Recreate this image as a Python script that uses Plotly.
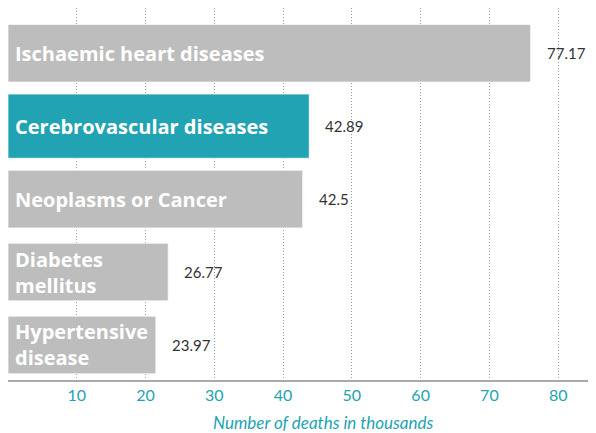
import plotly.graph_objects as go

categories = ["Ischaemic heart diseases", "Cerebrovascular diseases", "Neoplasms or Cancer",
              "Diabetes mellitus", "Hypertensive disease"]
display_names = ["Ischaemic heart diseases", "Cerebrovascular diseases", "Neoplasms or Cancer",
                 "Diabetes<br>mellitus", "Hypertensive<br>disease"]
bar_lengths = [76.0, 43.8, 42.85, 23.3, 21.5]
value_labels = ["77.17", "42.89", "42.5", "26.77", "23.97"]
x_ticks = [10, 20, 30, 40, 50, 60, 70, 80]

TEAL = "#22a3b3"
GRAY = "#bdbdbd"
colors = [TEAL if c == "Cerebrovascular diseases" else GRAY for c in categories]
widths = [0.88 if c == "Cerebrovascular diseases" else 0.79 for c in categories]

fig = go.Figure()
fig.add_trace(go.Bar(
    x=bar_lengths, y=list(range(len(categories))), orientation="h",
    marker=dict(color=colors, line=dict(color="rgba(255,255,255,0.7)", width=1)),
    width=widths, hoverinfo="skip", showlegend=False,
))

annotations = []
for i, (name, v, lab) in enumerate(zip(display_names, bar_lengths, value_labels)):
    annotations.append(dict(
        x=0, y=i, xref="x", yref="y", text=name, showarrow=False,
        xanchor="left", yanchor="middle", align="left", xshift=5,
        font=dict(family="Open Sans", size=20, color="white", weight="bold"),
    ))
    annotations.append(dict(
        x=v, y=i, xref="x", yref="y", text=lab, showarrow=False,
        xanchor="left", yanchor="middle", xshift=14,
        font=dict(family="Lato", size=15, color="#333333"),
    ))
annotations.append(dict(
    x=0.536, y=-0.115, xref="paper", yref="paper", text="Number of deaths in thousands",
    showarrow=False, xanchor="center", yanchor="middle",
    font=dict(family="Lato", size=17, color=TEAL, style="italic"),
))

# page body has an 8px margin, so the figure is shifted by 8px
fig.update_layout(
    width=588, height=425, autosize=False,
    margin=dict(l=0, r=0, t=0, b=53),
    plot_bgcolor="white", paper_bgcolor="white",
    annotations=annotations,
    bargap=0.2,
)
fig.update_xaxes(
    range=[0, 85.5], tickvals=x_ticks, ticktext=[str(t) for t in x_ticks],
    showgrid=True, griddash="1px,2px", gridcolor="#9a9a9a", gridwidth=1,
    showline=True, linecolor="#aaaaaa", linewidth=2, zeroline=False,
    ticks="", tickfont=dict(family="Lato", size=16, color=TEAL),
)
fig.update_yaxes(
    range=[4.48, -0.62], showticklabels=False, showgrid=False, zeroline=False,
    showline=True, linecolor="#aaaaaa", linewidth=2, ticks="",
)

fig.write_html("out.html")
